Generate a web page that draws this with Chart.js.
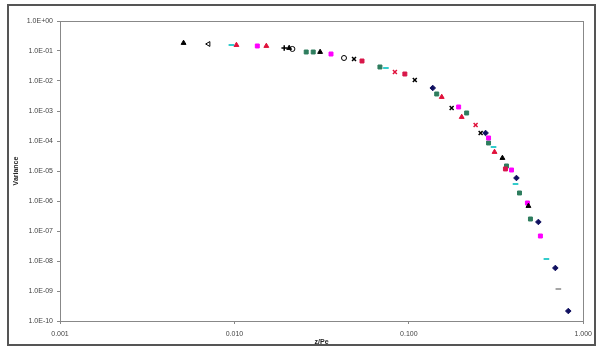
<!DOCTYPE html>
<html><head><meta charset="utf-8">
<script src="https://cdn.jsdelivr.net/npm/chart.js@4/dist/chart.umd.min.js"></script>
<style>html,body{margin:0;padding:0;background:#fff;}#wrap{width:598px;height:347px;position:relative;}</style>
</head><body><div id="wrap"><canvas id="c" width="598" height="347"></canvas></div>
<script>
// Tick values and labels
const xTickValues = [0.001, 0.01, 0.1, 1];
const xTickLabels = ["0.001", "0.010", "0.100", "1.000"];
const yTickValues = [1, 1e-1, 1e-2, 1e-3, 1e-4, 1e-5, 1e-6, 1e-7, 1e-8, 1e-9, 1e-10];
const yTickLabels = ["1.0E+00","1.0E-01","1.0E-02","1.0E-03","1.0E-04","1.0E-05","1.0E-06","1.0E-07","1.0E-08","1.0E-09","1.0E-10"];

// Series (z/Pe, Variance)
const blackTriX = [0.00511, 0.0206, 0.0310, 0.344, 0.485];
const blackTriY = [0.185, 0.126, 0.0926, 2.71e-5, 6.81e-7];
const openTriX = [0.0071];
const openTriY = [0.171];
const openCircX = [0.0215, 0.0425];
const openCircY = [0.117, 0.0585];
const cyanX = [0.00961, 0.0739, 0.306, 0.409, 0.615];
const cyanY = [0.158, 0.0271, 6.31e-5, 3.69e-6, 1.17e-8];
const redTriX = [0.01027, 0.01524, 0.1544, 0.201, 0.310];
const redTriY = [0.158, 0.147, 2.93e-3, 6.31e-4, 4.30e-5];
const magentaX = [0.01353, 0.0358, 0.193, 0.2865, 0.388, 0.4786, 0.568];
const magentaY = [0.147, 0.0794, 1.36e-3, 1.26e-4, 1.08e-5, 8.58e-7, 6.81e-8];
const plusX = [0.0193];
const plusY = [0.126];
const blackXX = [0.0485, 0.1082, 0.176, 0.258];
const blackXY = [0.0541, 0.0108, 1.26e-3, 1.85e-4];
const redXX = [0.0832, 0.2415];
const redXY = [0.02, 3.41e-4];
const redSqX = [0.0539, 0.0949, 0.358];
const redSqY = [0.0464, 0.0171, 1.17e-5];
const greenX = [0.0258, 0.0283, 0.0683, 0.1445, 0.2145, 0.2865, 0.363, 0.431, 0.498];
const greenY = [0.0926, 0.0926, 0.0293, 3.69e-3, 8.58e-4, 8.58e-5, 1.47e-5, 1.85e-6, 2.51e-7];
const navyX = [0.1371, 0.2754, 0.414, 0.553, 0.692, 0.821];
const navyY = [5.85e-3, 1.85e-4, 5.85e-6, 2.0e-7, 5.85e-9, 2.15e-10];
const greyX = [0.72];
const greyY = [1.17e-9];

function pts(xs, ys){ return xs.map((x,i)=>({x:x, y:ys[i]})); }
function ds(xs, ys, style, fill, border, opts){
  return Object.assign({data: pts(xs, ys), pointStyle: style, backgroundColor: fill, borderColor: border,
    pointRadius: 2.8, pointBorderWidth: 1, showLine: false}, opts || {});
}

const frame = {
  id: 'frame',
  beforeDraw(chart){
    const ctx = chart.ctx;
    ctx.save();
    ctx.fillStyle = '#fff';
    ctx.fillRect(0,0,chart.width,chart.height);
    ctx.strokeStyle = '#555';
    ctx.lineWidth = 2;
    ctx.strokeRect(8, 5, 587, 340);
    ctx.restore();
  }
};
const areaBorder = {
  id: 'areaBorder',
  beforeDatasetsDraw(chart){
    const a = chart.chartArea, ctx = chart.ctx;
    ctx.save();
    ctx.strokeStyle = '#888';
    ctx.lineWidth = 1;
    ctx.strokeRect(Math.round(a.left)+0.5, Math.round(a.top)+0.5, Math.round(a.right-a.left), Math.round(a.bottom-a.top));
    ctx.restore();
  }
};

new Chart(document.getElementById('c'), {
  type: 'scatter',
  data: { datasets: [
    ds(blackTriX, blackTriY, 'triangle', '#000', '#000'),
    ds(openTriX, openTriY, 'triangle', '#fff', '#000', {pointRotation: -90}),
    ds(openCircX, openCircY, 'circle', '#fff', '#000', {pointRadius: 2.5}),
    ds(cyanX, cyanY, 'line', '#33cccc', '#33cccc', {pointBorderWidth: 2}),
    ds(redTriX, redTriY, 'triangle', '#e0103a', '#e0103a'),
    ds(magentaX, magentaY, 'rect', '#ff00ff', '#ff00ff'),
    ds(plusX, plusY, 'cross', '#000', '#000', {pointBorderWidth: 1.5}),
    ds(blackXX, blackXY, 'crossRot', '#000', '#000', {pointBorderWidth: 1.5}),
    ds(redXX, redXY, 'crossRot', '#e0103a', '#e0103a', {pointBorderWidth: 1.5}),
    ds(redSqX, redSqY, 'rect', '#d8174a', '#d8174a'),
    ds(greenX, greenY, 'rect', '#2e7d5e', '#2e7d5e'),
    ds(navyX, navyY, 'rectRot', '#101060', '#101060'),
    ds(greyX, greyY, 'line', '#888', '#888', {pointBorderWidth: 1.5})
  ]},
  options: {
    responsive: false,
    animation: false,
    devicePixelRatio: 1,
    layout: { padding: { left: 0, right: 13, top: 21, bottom: 0 } },
    plugins: { legend: { display: false }, tooltip: { enabled: false } },
    scales: {
      x: {
        type: 'logarithmic', min: 0.001, max: 1,
        afterBuildTicks(s){ s.ticks = xTickValues.map(v=>({value:v})); },
        afterFit(s){ s.height = 26; },
        grid: { display: true, drawOnChartArea: false, drawTicks: true, tickLength: 3, color: '#888' },
        border: { display: false },
        ticks: { padding: 6, color: '#444', font: { family: 'Liberation Sans', size: 7 }, maxRotation: 0,
          callback(v){ const i = xTickValues.findIndex(t=>Math.abs(Math.log10(t)-Math.log10(v))<1e-6); return i>=0 ? xTickLabels[i] : ''; } },
        title: { display: true, text: 'z/Pe', color: '#222', font: { family: 'Liberation Sans', size: 7, weight: 'bold' }, padding: { top: 0, bottom: 1 } }
      },
      y: {
        type: 'logarithmic', min: 1e-10, max: 1,
        afterBuildTicks(s){ s.ticks = yTickValues.map(v=>({value:v})); },
        afterFit(s){ s.width = 60; },
        grid: { display: true, drawOnChartArea: false, drawTicks: true, tickLength: 3, color: '#888' },
        border: { display: false },
        ticks: { padding: 4, color: '#444', font: { family: 'Liberation Sans', size: 7 },
          callback(v){ const i = yTickValues.findIndex(t=>Math.abs(Math.log10(t)-Math.log10(v))<1e-6); return i>=0 ? yTickLabels[i] : ''; } },
        title: { display: true, text: 'Variance', color: '#222', font: { family: 'Liberation Sans', size: 7, weight: 'bold' }, padding: { top: 12, bottom: 0 } }
      }
    }
  },
  plugins: [frame, areaBorder]
});
</script>
</body></html>
